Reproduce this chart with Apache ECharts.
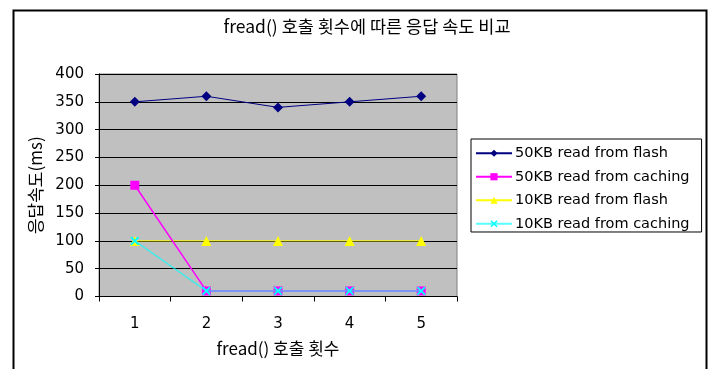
<!DOCTYPE html>
<html><head><meta charset="utf-8">
<script src="https://cdn.jsdelivr.net/npm/echarts@6/dist/echarts.min.js"></script>
<style>html,body{margin:0;padding:0;background:#fff;}#c{width:713px;height:369px;}</style>
</head><body><div id="c"></div>
<script>
var titleText = 'fread() 호출 횟수에 따른 응답 속도 비교';
var xName = 'fread() 호출 횟수';
var yName = '응답속도(ms)';
var categories = ['1', '2', '3', '4', '5'];
var flash50 = [350, 360, 340, 350, 360];
var caching50 = [200, 10, 10, 10, 10];
var flash10 = [100, 100, 100, 100, 100];
var caching10 = [100, 10, 10, 10, 10];
var seriesNames = ['50KB read from flash', '50KB read from caching', '10KB read from flash', '10KB read from caching'];

var xSym = 'path://M0,1.5L1.5,0L5,3.5L8.5,0L10,1.5L6.5,5L10,8.5L8.5,10L5,6.5L1.5,10L0,8.5L3.5,5Z';
var FONT = '"DejaVu Sans", "Noto Sans CJK KR", sans-serif';
var KFONT = '"Noto Sans CJK KR", "DejaVu Sans", sans-serif';

var chart = echarts.init(document.getElementById('c'));
chart.setOption({
  animation: false,
  backgroundColor: '#fff',
  title: {
    text: titleText, left: 362, top: 13, textAlign: 'center',
    textStyle: {fontFamily: KFONT, fontSize: 17.5, fontWeight: 'normal', color: '#000'}
  },
  graphic: [{
    type: 'rect', left: 11, top: 8, z: 100,
    shape: {width: 693, height: 420},
    style: {fill: 'none', stroke: '#000', lineWidth: 2}
  }],
  legend: {
    orient: 'vertical', left: 471, top: 139,
    padding: [7, 12, 1, 4],
    itemGap: 9,
    itemWidth: 36, itemHeight: 9,
    borderColor: '#000', borderWidth: 1, backgroundColor: '#fff',
    textStyle: {fontFamily: FONT, fontSize: 14.5, color: '#000', padding: [0, 0, 0, -2]},
    data: seriesNames
  },
  grid: {left: 99, top: 74, width: 358, height: 222.5, show: true, backgroundColor: '#c0c0c0', borderColor: '#808080', borderWidth: 1},
  xAxis: {
    type: 'category', data: categories, boundaryGap: true,
    name: xName, nameLocation: 'middle', nameGap: 44,
    nameTextStyle: {fontFamily: KFONT, fontSize: 17, color: '#000'},
    axisLine: {lineStyle: {color: '#000', width: 1}},
    axisTick: {show: true, inside: false, length: 5, lineStyle: {color: '#000'}},
    axisLabel: {fontFamily: FONT, fontSize: 15, color: '#000', margin: 20}
  },
  yAxis: {
    type: 'value', min: 0, max: 400, interval: 50,
    name: yName, nameLocation: 'middle', nameRotate: 90, nameGap: 55,
    nameTextStyle: {fontFamily: KFONT, fontSize: 17, color: '#000'},
    axisLine: {show: true, lineStyle: {color: '#000', width: 1}},
    axisTick: {show: true, length: 4, lineStyle: {color: '#000'}},
    axisLabel: {fontFamily: FONT, fontSize: 15, color: '#000', margin: 15},
    splitLine: {show: true, lineStyle: {color: '#000', width: 1}}
  },
  series: [
    {name: seriesNames[0], type: 'line', data: flash50, symbol: 'diamond', symbolSize: 10,
     itemStyle: {color: '#000080'}, lineStyle: {color: '#000080', width: 1}, z: 4},
    {name: seriesNames[1], type: 'line', data: caching50, symbol: 'rect', symbolSize: 9,
     itemStyle: {color: '#ff00ff'}, lineStyle: {color: '#ff00ff', width: 1.5}, z: 3},
    {name: seriesNames[2], type: 'line', data: flash10, symbol: 'triangle', symbolSize: 10,
     itemStyle: {color: '#ffff00'}, lineStyle: {color: '#ffff00', width: 1}, z: 2},
    {name: seriesNames[3], type: 'line', data: caching10, symbol: xSym, symbolSize: 9,
     itemStyle: {color: '#00ffff'}, lineStyle: {color: '#00ffff', width: 1.5, opacity: 0.65}, z: 5}
  ]
});
</script></body></html>
